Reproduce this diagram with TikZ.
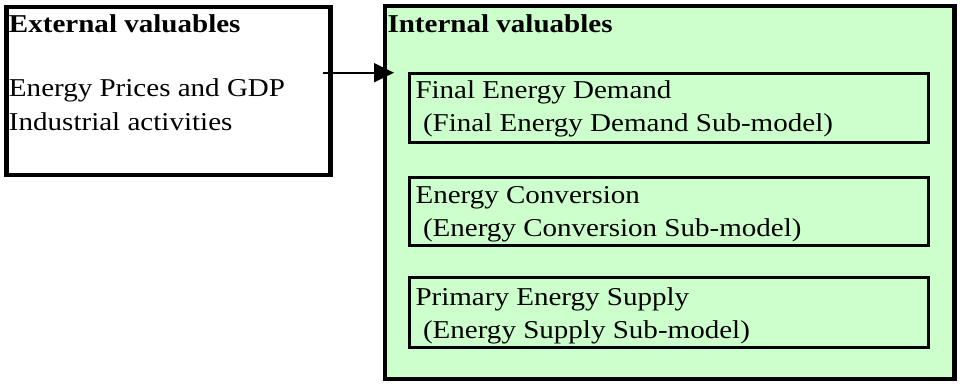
\documentclass[tikz,border=0pt]{standalone}
\usepackage{graphicx}
\usepackage{fontspec}
\setmainfont{Liberation Serif}
\usetikzlibrary{arrows.meta}
\definecolor{boxgreen}{HTML}{CCFFCC}
\newcommand{\sx}[1]{\scalebox{1.13}[1]{#1}}
\begin{document}
\begin{tikzpicture}[x=1pt,y=-1pt,
  outerbox/.style={draw=black, line width=4.5pt, rectangle, inner sep=0pt, outer sep=0pt, anchor=north west},
  innerbox/.style={draw=black, line width=3pt, rectangle, inner sep=0pt, outer sep=0pt, anchor=north west, minimum width=519.5pt},
  txt/.style={anchor=base west, inner sep=0pt, outer sep=0pt, font=\fontsize{25.7}{33}\selectfont},
  btxt/.style={txt, font=\fontsize{25.7}{33}\selectfont\bfseries},
  link/.style={line width=1.6pt, -{Triangle[length=20pt,width=19pt]}}]
\useasboundingbox (0,0) rectangle (960,383);
% boxes
\node[outerbox, fill=white, minimum width=324pt, minimum height=168pt] (ext) at (6.5,7) {};
\node[outerbox, fill=boxgreen, minimum width=569.5pt, minimum height=373pt] (int) at (385,6) {};
\node[innerbox, minimum height=69pt] (fed) at (409,73) {};
\node[innerbox, minimum height=68pt] (ec) at (409,177) {};
\node[innerbox, minimum height=70pt] (pes) at (409,277) {};
% texts
\node[btxt] (extT) at (9,32.3) {\sx{External valuables}};
\node[txt] (extA) at (9,96.7) {\sx{Energy Prices and GDP}};
\node[txt] (extB) at (9,130) {\sx{Industrial activities}};
\node[btxt] (intT) at (387.5,32) {\sx{Internal valuables}};
\node[txt] (fedA) at (415.5,98.3) {\sx{Final Energy Demand}};
\node[txt] (fedB) at (423,131.7) {\sx{(Final Energy Demand Sub-model)}};
\node[txt] (ecA) at (415.5,203.3) {\sx{Energy Conversion}};
\node[txt] (ecB) at (423,236.7) {\sx{(Energy Conversion Sub-model)}};
\node[txt] (pesA) at (415.5,305) {\sx{Primary Energy Supply}};
\node[txt] (pesB) at (423,338.3) {\sx{(Energy Supply Sub-model)}};
% connector
\coordinate (src) at (323,72.7);
\draw[link, shorten >=-9pt] (src) -- (int.west |- src);
\end{tikzpicture}
\end{document}
